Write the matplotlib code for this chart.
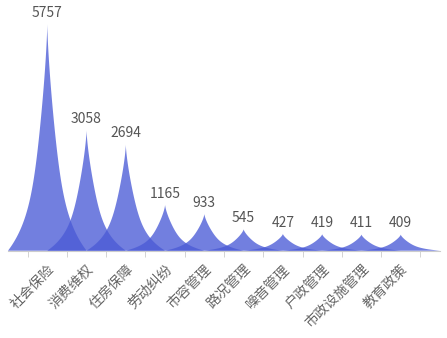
import numpy as np
import matplotlib
matplotlib.use("Agg")
import matplotlib.pyplot as plt

plt.rcParams["font.family"] = ["Noto Sans CJK SC", "DejaVu Sans"]

categories = ["社会保险", "消费维权", "住房保障", "劳动纠纷", "市容管理",
              "路况管理", "噪音管理", "户政管理", "市政设施管理", "教育政策"]
values = [5757, 3058, 2694, 1165, 933, 545, 427, 419, 411, 409]

fill_color = "#4b5bd6"
half_width = 1.0  # in category slots


def spike(center, height):
    h = np.linspace(0, 1, 200)
    w = 0.45 * (1 - h) ** 8 + 0.55 * (1 - h) ** 1.4
    xs = np.concatenate([center - half_width * w, (center + half_width * w)[::-1]])
    ys = np.concatenate([h * height, (h * height)[::-1]])
    return xs, ys


fig = plt.figure(figsize=(4.47, 3.38), dpi=100)
ax = fig.add_axes([8 / 447, 87.3 / 338, 432 / 447, 226.7 / 338])

for i, v in enumerate(values):
    xs, ys = spike(i, v)
    ax.fill(xs, ys, color=fill_color, alpha=0.78, lw=0)
    ax.annotate(str(v), (i, v), xytext=(0, 3), textcoords="offset points",
                ha="center", va="bottom", fontsize=10, color="#555555",
                annotation_clip=False)

ax.set_xlim(-1, len(values))
ax.set_ylim(0, max(values))

for s in ["left", "right", "top"]:
    ax.spines[s].set_visible(False)
ax.spines["bottom"].set_color("#cccccc")
ax.spines["bottom"].set_zorder(0)
ax.set_yticks([])

ax.set_xticks(range(len(categories)))
ax.set_xticklabels(categories, rotation=45, ha="right", rotation_mode="anchor",
                   fontsize=10, color="#666666")
ax.tick_params(axis="x", which="major", length=0, pad=8)
ax.set_xticks(np.arange(-0.5, len(categories)), minor=True)
ax.tick_params(axis="x", which="minor", length=4, color="#cccccc", direction="out")

fig.savefig("out.png", dpi=100)
